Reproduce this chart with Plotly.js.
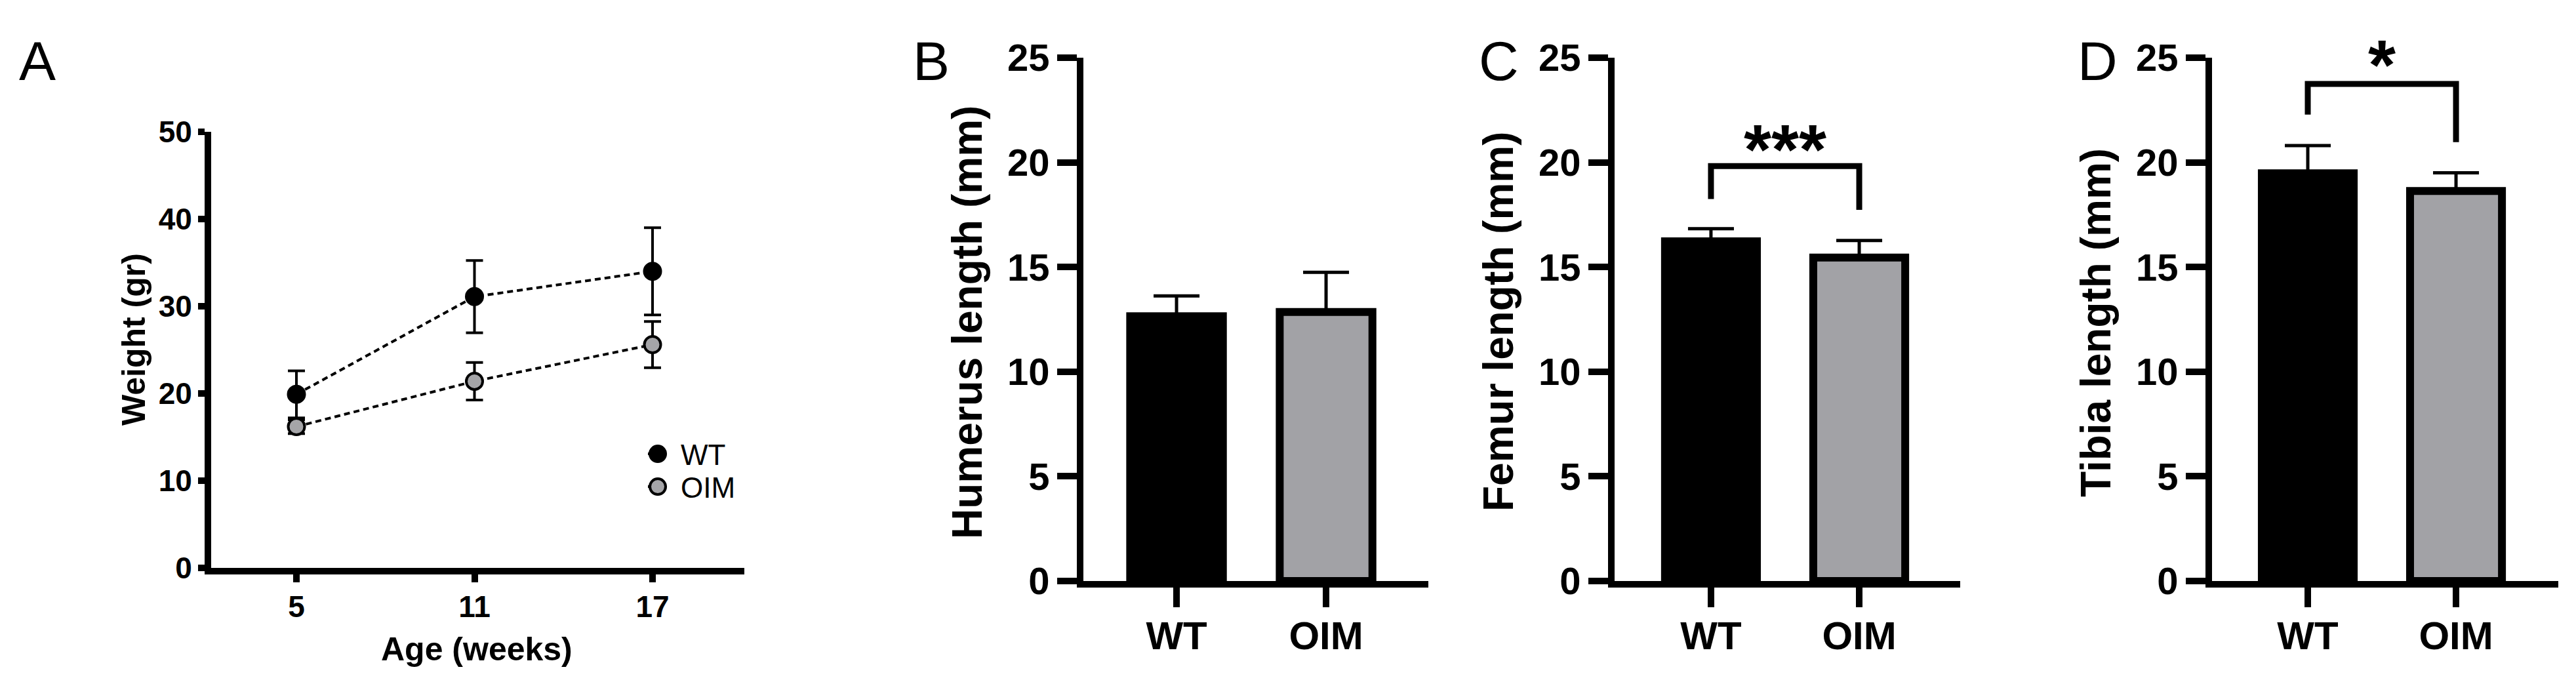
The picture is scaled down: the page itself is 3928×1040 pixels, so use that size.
<!DOCTYPE html>
<html><head><meta charset="utf-8">
<script src="https://cdn.plot.ly/plotly-3.0.1.min.js"></script>
<style>html,body{margin:0;padding:0;background:#fff;}#chart{width:3928px;height:1040px;}</style>
</head><body><div id="chart"></div>
<script>
// ---- data ----
const ages = [5, 11, 17];
const wtWeight = [19.9, 31.1, 34.0];
const wtWeightSD = [2.7, 4.15, 5.0];
const oimWeight = [16.2, 21.4, 25.6];
const oimWeightSD = [0.8, 2.15, 2.65];
const groups = ['WT', 'OIM'];
const humerus = [12.65, 12.85];
const humerusErr = [0.97, 1.9];
const femur = [16.23, 15.45];
const femurErr = [0.6, 0.82];
const tibia = [19.48, 18.63];
const tibiaErr = [1.32, 0.87];
const femurBracketY = [18.25, 19.82, 19.82, 17.73];
const tibiaBracketY = [22.28, 23.75, 23.75, 20.97];
const femurSig = '***', femurSigY = 21.33;
const tibiaSig = '*', tibiaSigY = 25.35;
const panelLabels = ['A', 'B', 'C', 'D'];
const yTitles = ['Weight (gr)', 'Humerus length (mm)', 'Femur length (mm)', 'Tibia length (mm)'];
const xTitleA = 'Age (weeks)';

// ---- layout helpers ----
const W = 3928, H = 1040;
const px = p => p / W;
const py = p => 1 - p / H;
const FONT = 'Liberation Sans, Arial, Helvetica, sans-serif';
const BLACK = '#000000', GREY = '#a2a2a6';
const bracketX = [groups[0], groups[0], groups[1], groups[1]];
const barYMax = 25;

const traces = [];
// Panel A
traces.push({
  x: ages, y: oimWeight, name: 'OIM', xaxis: 'x', yaxis: 'y', type: 'scatter', mode: 'lines+markers',
  line: {color: BLACK, width: 4, dash: '9px,6px'},
  marker: {color: '#a5a5a8', size: 25, line: {color: BLACK, width: 4}},
  error_y: {type: 'data', array: oimWeightSD, color: BLACK, thickness: 4, width: 13},
  legendrank: 2, cliponaxis: false
});
traces.push({
  x: ages, y: wtWeight, name: 'WT', xaxis: 'x', yaxis: 'y', type: 'scatter', mode: 'lines+markers',
  line: {color: BLACK, width: 4, dash: '9px,6px'},
  marker: {color: BLACK, size: 25, line: {color: BLACK, width: 4}},
  error_y: {type: 'data', array: wtWeightSD, color: BLACK, thickness: 4, width: 13},
  legendrank: 1, cliponaxis: false
});
// Bar panels
const barSets = [[humerus, humerusErr, '2'], [femur, femurErr, '3'], [tibia, tibiaErr, '4']];
barSets.forEach(([vals, errs, n]) => {
  traces.push({
    type: 'bar', x: groups, y: vals, xaxis: 'x' + n, yaxis: 'y' + n, width: 0.62, showlegend: false,
    marker: {color: [BLACK, GREY], line: {color: BLACK, width: 12}},
    error_y: {type: 'data', symmetric: false, array: errs, arrayminus: errs.map(() => 0), color: BLACK, thickness: 5, width: 35},
    cliponaxis: false
  });
});
traces.push({type: 'scatter', mode: 'lines', x: bracketX, y: femurBracketY, xaxis: 'x3', yaxis: 'y3', showlegend: false,
  line: {color: BLACK, width: 9}, cliponaxis: false});
traces.push({type: 'scatter', mode: 'lines', x: bracketX, y: tibiaBracketY, xaxis: 'x4', yaxis: 'y4', showlegend: false,
  line: {color: BLACK, width: 9}, cliponaxis: false});

function axisBase(extra) {
  return Object.assign({
    showline: true, linewidth: 10, linecolor: BLACK, ticks: 'outside', tickcolor: BLACK, tickwidth: 10,
    showgrid: false, zeroline: false, fixedrange: true,
    tickfont: {family: FONT, size: 58, color: BLACK, weight: 'bold'}
  }, extra);
}
const catTickFont = {family: FONT, size: 60, color: BLACK, weight: 'bold'};
const aTickFont = {family: FONT, size: 46, color: BLACK, weight: 'bold'};

const layout = {
  width: W, height: H, margin: {l: 0, r: 0, t: 0, b: 0}, paper_bgcolor: '#fff', plot_bgcolor: '#fff',
  font: {family: FONT, color: BLACK},
  showlegend: true,
  legend: {x: px(983), y: py(657), xanchor: 'left', yanchor: 'top', bgcolor: 'rgba(0,0,0,0)',
    font: {family: FONT, size: 44, color: BLACK}, traceorder: 'normal'},
  xaxis: axisBase({domain: [px(322), px(1135)], range: [2.127, 20.094], tickvals: ages, ticklen: 12,
    anchor: 'y', tickfont: aTickFont, ticklabelstandoff: -2}),
  yaxis: axisBase({domain: [py(866), py(201)], range: [0, 50], dtick: 10, ticklen: 10,
    anchor: 'x', tickfont: aTickFont}),
  xaxis2: axisBase({domain: [px(1652), px(2178)], range: [-0.623, 1.684], type: 'category', ticklen: 30, anchor: 'y2', tickfont: catTickFont, ticklabelstandoff: -8}),
  yaxis2: axisBase({domain: [py(886), py(88)], range: [0, barYMax], dtick: 5, ticklen: 30, anchor: 'x2'}),
  xaxis3: axisBase({domain: [px(2462), px(2989)], range: [-0.65, 1.681], type: 'category', ticklen: 30, anchor: 'y3', tickfont: catTickFont, ticklabelstandoff: -8}),
  yaxis3: axisBase({domain: [py(886), py(88)], range: [0, barYMax], dtick: 5, ticklen: 30, anchor: 'x3'}),
  xaxis4: axisBase({domain: [px(3373), px(3901)], range: [-0.646, 1.69], type: 'category', ticklen: 30, anchor: 'y4', tickfont: catTickFont, ticklabelstandoff: -8}),
  yaxis4: axisBase({domain: [py(886), py(88)], range: [0, barYMax], dtick: 5, ticklen: 30, anchor: 'x4'}),
  annotations: []
};

const labelX = [27, 1390, 2253, 3166];
panelLabels.forEach((t, i) => layout.annotations.push({
  text: t, xref: 'paper', yref: 'paper', x: px(labelX[i]), y: py(93), xanchor: 'left', yanchor: 'middle',
  showarrow: false, font: {family: FONT, size: 84, color: BLACK}
}));
const titleX = [204, 1475, 2285, 3196];
const titleY = [518, 492, 490, 492];
const titleSize = [50, 64, 64, 64];
yTitles.forEach((t, i) => layout.annotations.push({
  text: t, xref: 'paper', yref: 'paper', x: px(titleX[i]), y: py(titleY[i]), xanchor: 'center', yanchor: 'middle',
  textangle: -90, showarrow: false, font: {family: FONT, size: titleSize[i], color: BLACK, weight: 'bold'}
}));
layout.annotations.push({
  text: xTitleA, xref: 'paper', yref: 'paper', x: px(727), y: py(990), xanchor: 'center', yanchor: 'middle',
  showarrow: false, font: {family: FONT, size: 50, color: BLACK, weight: 'bold'}
});
layout.annotations.push({
  text: femurSig, xref: 'x3', yref: 'y3 domain', x: 0.5, y: femurSigY / barYMax, xanchor: 'center', yanchor: 'middle',
  yshift: -22, showarrow: false, font: {family: FONT, size: 108, color: BLACK, weight: 'bold'}
});
layout.annotations.push({
  text: tibiaSig, xref: 'x4', yref: 'y4 domain', x: 0.5, y: tibiaSigY / barYMax, xanchor: 'center', yanchor: 'middle',
  yshift: -22, showarrow: false, font: {family: FONT, size: 108, color: BLACK, weight: 'bold'}
});

Plotly.newPlot('chart', traces, layout, {staticPlot: true, displayModeBar: false}).then(() => {
  document.querySelectorAll('.legend .scrollbox').forEach(s => s.removeAttribute('clip-path'));
  document.querySelectorAll('.legend path.scatterpts').forEach(p => {
    const t = p.getAttribute('transform') || '';
    p.setAttribute('transform', t + ' scale(1.5)');
    p.style.strokeWidth = '2.7px';
  });
  document.querySelectorAll('.legend text.legendtext').forEach(t => {
    t.setAttribute('x', '55');
    t.querySelectorAll('tspan').forEach(s => { if (s.getAttribute('x')) s.setAttribute('x', '55'); });
  });
  const items = document.querySelectorAll('.legend g.traces');
  if (items.length === 2) {
    const m = /translate\(([-\d.]+)[ ,]+([-\d.]+)\)/.exec(items[0].getAttribute('transform') || '');
    if (m) {
      const x0 = parseFloat(m[1]), y0 = parseFloat(m[2]);
      items[1].setAttribute('transform', 'translate(' + x0 + ',' + (y0 + 50) + ')');
    }
  }
});
</script></body></html>
